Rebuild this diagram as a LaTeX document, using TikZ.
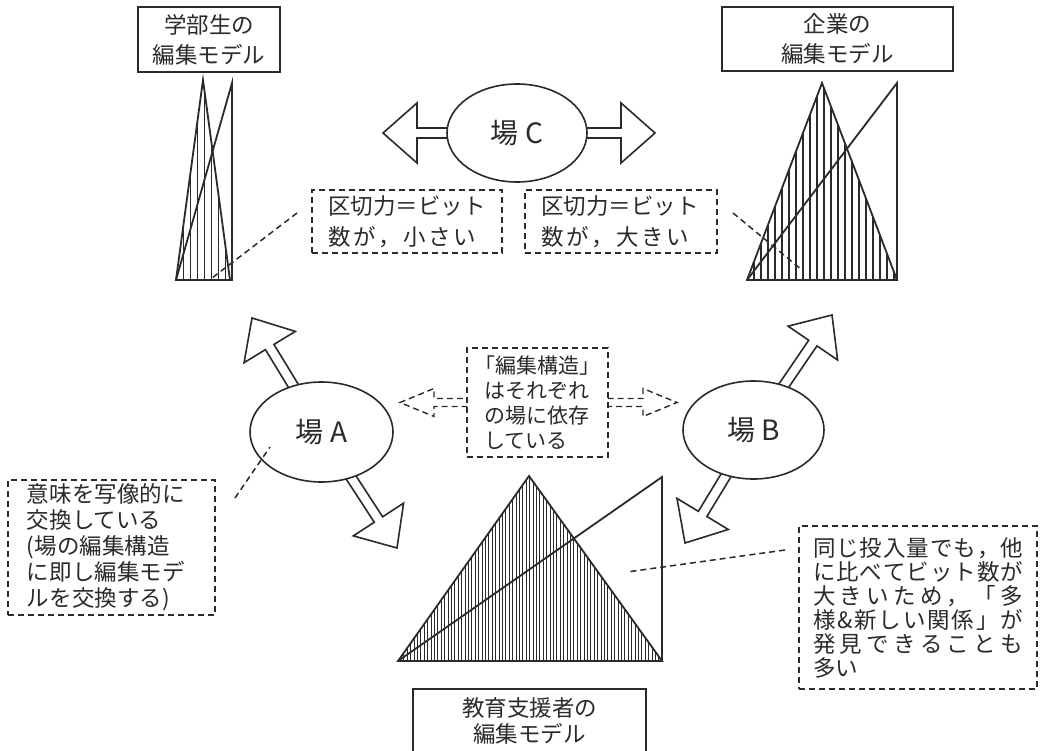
\documentclass[tikz,border=0pt]{standalone}
\usepackage{fontspec}
\setmainfont{Noto Sans CJK JP}
\usetikzlibrary{calc,shapes.geometric}
\definecolor{ink}{HTML}{2A2A2A}
\def\sprA#1{#1\sprB}
\def\sprB#1{\ifx#1\relax\else\hfil#1\expandafter\sprB\fi}
\newcommand\spreadline[2]{\makebox[#1][s]{\sprA#2\relax}}
% style, start, tip, shaft half width, head half width, head length
\newcommand\blockarrow[6]{%
  \coordinate (bbase) at ($(#3)!#6!(#2)$);
  \draw[#1] ($(#2)!#4!90:(#3)$) -- ($(bbase)!#4!90:(#3)$) -- ($(bbase)!#5!90:(#3)$) -- (#3)
    -- ($(bbase)!#5!-90:(#3)$) -- ($(bbase)!#4!-90:(#3)$) -- ($(#2)!#4!-90:(#3)$) -- cycle;}
\begin{document}
\begin{tikzpicture}[x=1pt,y=-1pt,
  solidbox/.style={draw=ink, line width=1.6pt, fill=white, align=center, text=ink, inner sep=0pt},
  dbox/.style={draw=ink, line width=1.4pt, dash pattern=on 6pt off 4pt, fill=white, align=left, text=ink, inner xsep=17pt, inner ysep=0pt},
  field/.style={ellipse, draw=ink, line width=1.6pt, fill=white, text=ink, font=\fontsize{28}{30}\selectfont, inner sep=0pt},
  blk/.style={draw=ink, line width=1.6pt, fill=white, line join=miter},
  dblk/.style={draw=ink, line width=1.4pt, dash pattern=on 6pt off 4pt, fill=white, line join=miter},
  tri/.style={draw=ink, line width=1.8pt, line join=miter},
  hatchA/.style={draw=ink, line width=1.0pt},
  hatchB/.style={draw=ink, line width=2.2pt},
  hatchC/.style={draw=ink, line width=0.9pt},
  leader/.style={draw=ink, line width=1.5pt, dash pattern=on 6pt off 4pt}]
\useasboundingbox (0,0) rectangle (1040,751);
\fill[white] (0,0) rectangle (1040,751);

% ---------- editing-model triangles ----------
\begin{scope}
  \clip (203,80) -- (176,280) -- (230,280) -- cycle;
  \foreach \x in {183,190,...,229} \draw[hatchA] (\x,70) -- (\x,290);
\end{scope}
\draw[tri] (203,80) -- (176,280) -- (230,280) -- cycle;
\draw[tri] (176,280) -- (232,83) -- (232,280) -- cycle;

\begin{scope}
  \clip (822,83) -- (747,280) -- (897,280) -- cycle;
  \foreach \x in {754,761,...,896} \draw[hatchB] (\x,70) -- (\x,290);
\end{scope}
\draw[tri] (822,83) -- (747,280) -- (897,280) -- cycle;
\draw[tri] (747,280) -- (897,83) -- (897,280);

\begin{scope}
  \clip (529,476) -- (398,661) -- (662,661) -- cycle;
  \foreach \x in {400.5,403.9,...,661} \draw[hatchC] (\x,470) -- (\x,670);
\end{scope}
\draw[tri] (529,476) -- (398,661) -- (662,661) -- cycle;
\draw[tri] (398,661) -- (662,477) -- (662,661);

% ---------- centres and arrow tips ----------
\coordinate (cC) at (517,133);
\coordinate (cA) at (321.5,432);
\coordinate (cB) at (753.5,430);
\coordinate (cM) at (537.5,402.5);
\coordinate (tCl) at (383,133);
\coordinate (tCr) at (655,133);
\coordinate (tAu) at (252,318);
\coordinate (tAd) at (397,548);
\coordinate (tBu) at (832,315);
\coordinate (tBd) at (685,543);
\coordinate (tMl) at (400,402.5);
\coordinate (tMr) at (677,402.5);

\blockarrow{blk}{cC}{tCl}{5pt}{30pt}{34pt}
\blockarrow{blk}{cC}{tCr}{5pt}{30pt}{34pt}
\blockarrow{blk}{cA}{tAu}{5pt}{30pt}{34pt}
\blockarrow{blk}{cA}{tAd}{5pt}{30pt}{34pt}
\blockarrow{blk}{cB}{tBu}{5pt}{30pt}{34pt}
\blockarrow{blk}{cB}{tBd}{5pt}{30pt}{34pt}
\blockarrow{dblk}{cM}{tMl}{4pt}{14pt}{34pt}
\blockarrow{dblk}{cM}{tMr}{4pt}{14pt}{34pt}

% ---------- fields ----------
\node[field, minimum width=140, minimum height=98] (fC) at (cC) {場 C};
\node[field, minimum width=143, minimum height=100] (fA) at (cA) {場 A};
\node[field, minimum width=141, minimum height=98] (fB) at (cB) {場 B};

% ---------- model labels ----------
\node[solidbox, minimum width=142, minimum height=65, font=\fontsize{22.5}{30}\selectfont] (ug) at (209,39.5) {学部生の\\編集モデル};
\node[solidbox, minimum width=231, minimum height=64, font=\fontsize{22.5}{30}\selectfont] (co) at (837.5,39) {企業の\\編集モデル};
\node[solidbox, anchor=north, minimum width=233, inner ysep=9pt, font=\fontsize{22.5}{26}\selectfont] (ed) at (529.5,688) {教育支援者の\\編集モデル};

% ---------- leader lines ----------
\coordinate (l1a) at (297,213); \coordinate (l1b) at (212,278);
\coordinate (l2a) at (733,213); \coordinate (l2b) at (802,270);
\coordinate (l3a) at (235,498); \coordinate (l3b) at (270,447);
\coordinate (l4a) at (785,550); \coordinate (l4b) at (627,572);
\draw[leader] (l1a) -- (l1b);
\draw[leader] (l2a) -- (l2b);
\draw[leader] (l3a) -- (l3b);
\draw[leader] (l4a) -- (l4b);

% ---------- dashed notes ----------
\node[dbox, inner xsep=16pt, text width=158, minimum height=63, font=\fontsize{22.5}{31}\selectfont] (n1) at (407,221.5) {\spreadline{158pt}{区切力＝ビット}\\\spreadline{148pt}{数が，小さい}};
\node[dbox, inner xsep=16pt, text width=160, minimum height=63, font=\fontsize{22.5}{31}\selectfont] (n2) at (621,221.5) {\spreadline{158pt}{区切力＝ビット}\\\spreadline{148pt}{数が，大きい}};
\node[dbox, inner xsep=17pt, text width=107, minimum height=109, font=\fontsize{21}{25}\selectfont] (nM) at (cM) {\hspace*{-10pt}「編集構造」\\はそれぞれ\\の場に依存\\している};
\node[dbox, inner xsep=19pt, text width=169, minimum height=135, font=\fontsize{22.5}{26}\selectfont] (n3) at (111.5,547.5) {意味を写像的に\\交換している\\(場の編集構造\\に即し編集モデ\\ルを交換する)};
\node[dbox, inner xsep=14pt, text width=210, minimum height=163, font=\fontsize{22.5}{24}\selectfont] (n4) at (918,607.5) {\spreadline{210pt}{同じ投入量でも，他}\\\spreadline{210pt}{に比べてビット数が}\\\spreadline{210pt}{大きいため，「多}\\\spreadline{210pt}{様\&新しい関係」が}\\\spreadline{210pt}{発見できることも}\\多い};
\end{tikzpicture}
\end{document}
